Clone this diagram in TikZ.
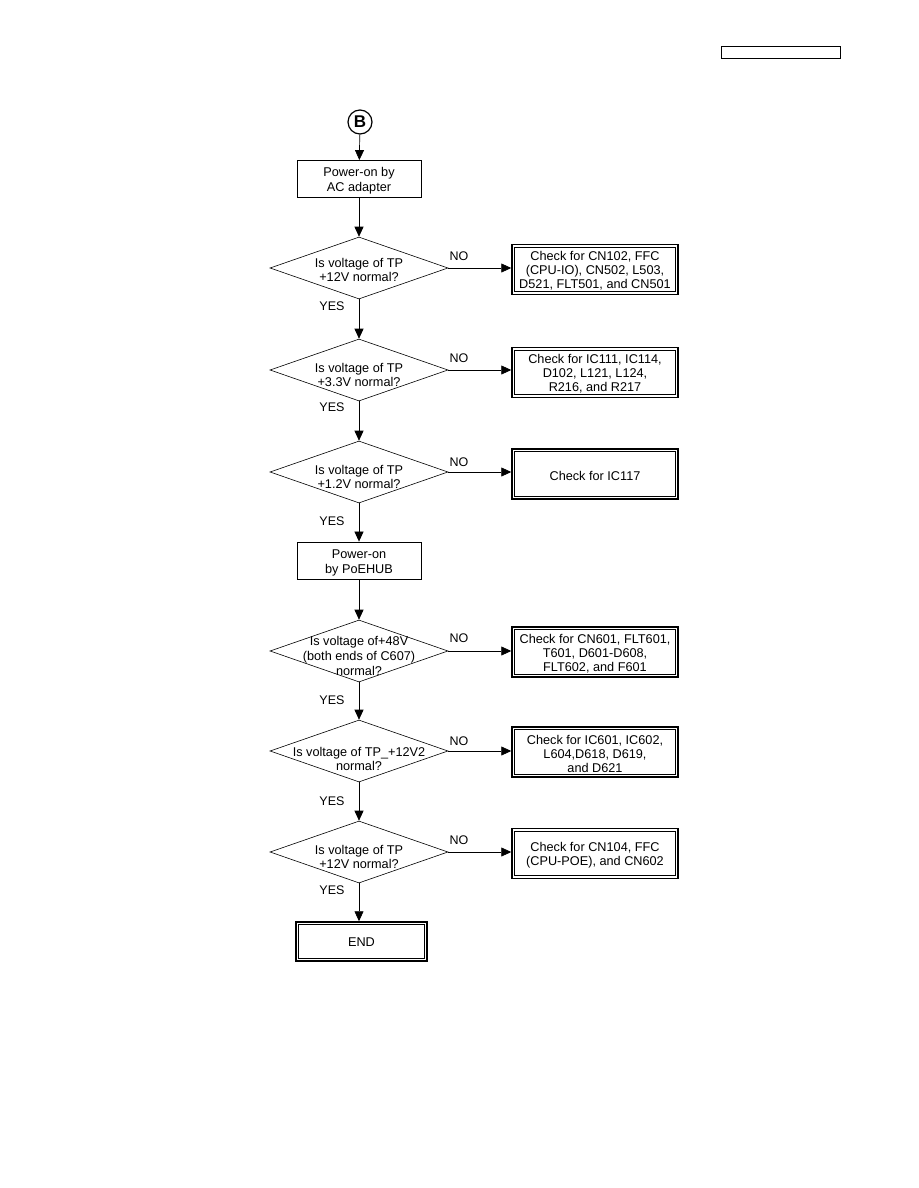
\documentclass[tikz,border=0pt]{standalone}
\usepackage{fontspec}
\setmainfont{Liberation Sans}
\usetikzlibrary{shapes.geometric,arrows.meta}
\begin{document}
\begin{tikzpicture}[x=1pt,y=-1pt,
  every node/.style={font=\fontsize{12.7}{14.7}\selectfont, align=center, inner sep=0pt},
  proc/.style={draw, line width=0.8pt, minimum width=124pt, minimum height=37pt},
  dec/.style={draw, diamond, line width=0.6pt, minimum width=178pt, minimum height=62pt},
  chk/.style={draw, line width=1.5pt, minimum width=166pt, minimum height=50pt},
  chktext/.style={font=\fontsize{12.7}{14}\selectfont},
  arr/.style={line width=0.7pt, -{Triangle[length=10pt,width=9pt]}},
  lbl/.style={font=\fontsize{12.5}{14}\selectfont}]
\useasboundingbox (0,0) rectangle (918,1188);
\fill[white] (0,0) rectangle (918,1188);
\node[draw, line width=1pt, minimum width=119pt, minimum height=12pt] (hdr) at (780.5,53) {};
\node[draw, circle, line width=1.2pt, minimum size=24pt, font=\fontsize{17}{17}\selectfont\bfseries] (B) at (360,122) {B};
% process boxes
\node[proc] (p1) at (359,179) {};
\node (tp1) at (359,181) {Power-on by\\AC adapter};
\node[proc] (p2) at (359,560.5) {};
\node (tp2) at (359,563) {Power-on\\by PoEHUB};
% decisions
\node[dec] (d1) at (359,268) {};
\node (t1) at (359,270) {Is voltage of TP\\+12V normal?};
\node[dec] (d2) at (359,370) {};
\node (t2) at (359,375) {Is voltage of TP\\+3.3V normal?};
\node[dec] (d3) at (359,472) {};
\node (t3) at (359,477) {Is voltage of TP\\+1.2V normal?};
\node[dec] (d4) at (359,651) {};
\node (t4) at (359,656) {Is voltage of+48V\\(both ends of C607)\\normal?};
\node[dec] (d5) at (359,751) {};
\node (t5) at (359,759) {Is voltage of TP\_+12V2\\normal?};
\node[dec] (d6) at (359,852) {};
\node (t6) at (359,857) {Is voltage of TP\\+12V normal?};
% check boxes
\node[chk] (c1) at (595,269.5) {};
\node[chktext] (tc1) at (595,271) {Check for CN102, FFC\\(CPU-IO), CN502, L503,\\D521, FLT501, and CN501};
\node[chk] (c2) at (595,372.5) {};
\node[chktext] (tc2) at (595,373.5) {Check for IC111, IC114,\\D102, L121, L124,\\R216, and R217};
\node[chk] (c3) at (595,474) {};
\node[chktext] (tc3) at (595,475.5) {Check for IC117};
\node[chk] (c4) at (595,652) {};
\node[chktext] (tc4) at (595,653.5) {Check for CN601, FLT601,\\T601, D601-D608,\\FLT602, and F601};
\node[chk] (c5) at (595,752) {};
\node[chktext] (tc5) at (595,753.5) {Check for IC601, IC602,\\L604,D618, D619,\\and D621};
\node[chk] (c6) at (595,853.5) {};
\node[chktext] (tc6) at (595,855.5) {Check for CN104, FFC\\(CPU-POE), and CN602};
\node[draw, line width=1.5pt, minimum width=131pt, minimum height=39pt] (e) at (361.5,941.5) {};
\node (te) at (361.5,942.5) {END};
\foreach \n in {c1,c2,c3,c4,c5,c6,e}
  \draw[line width=0.6pt] ([shift={(3.5pt,-3.5pt)}]\n.north west) rectangle ([shift={(-3.5pt,3.5pt)}]\n.south east);
% connectors
\draw[arr] (B) -- (p1);
\draw[arr] (p1) -- (d1);
\draw[arr] (d1) -- (d2);
\draw[arr] (d2) -- (d3);
\draw[arr] (d3) -- (p2);
\draw[arr] (p2) -- (d4);
\draw[arr] (d4) -- (d5);
\draw[arr] (d5) -- (d6);
\draw[arr] (d6.south) -- (d6.south |- e.north);
\foreach \d/\c in {d1/c1,d2/c2,d3/c3,d4/c4,d5/c5,d6/c6}
  \draw[arr] (\d.east) -- (\d.east -| \c.west);
\node[lbl] (n1) at (459,256) {NO};
\node[lbl] (n2) at (459,358) {NO};
\node[lbl] (n3) at (459,462) {NO};
\node[lbl] (n4) at (459,638) {NO};
\node[lbl] (n5) at (459,741) {NO};
\node[lbl] (n6) at (459,840) {NO};
\node[lbl] (y1) at (332,306) {YES};
\node[lbl] (y2) at (332,407) {YES};
\node[lbl] (y3) at (332,521) {YES};
\node[lbl] (y4) at (332,700) {YES};
\node[lbl] (y5) at (332,801) {YES};
\node[lbl] (y6) at (332,890) {YES};
\end{tikzpicture}
\end{document}
